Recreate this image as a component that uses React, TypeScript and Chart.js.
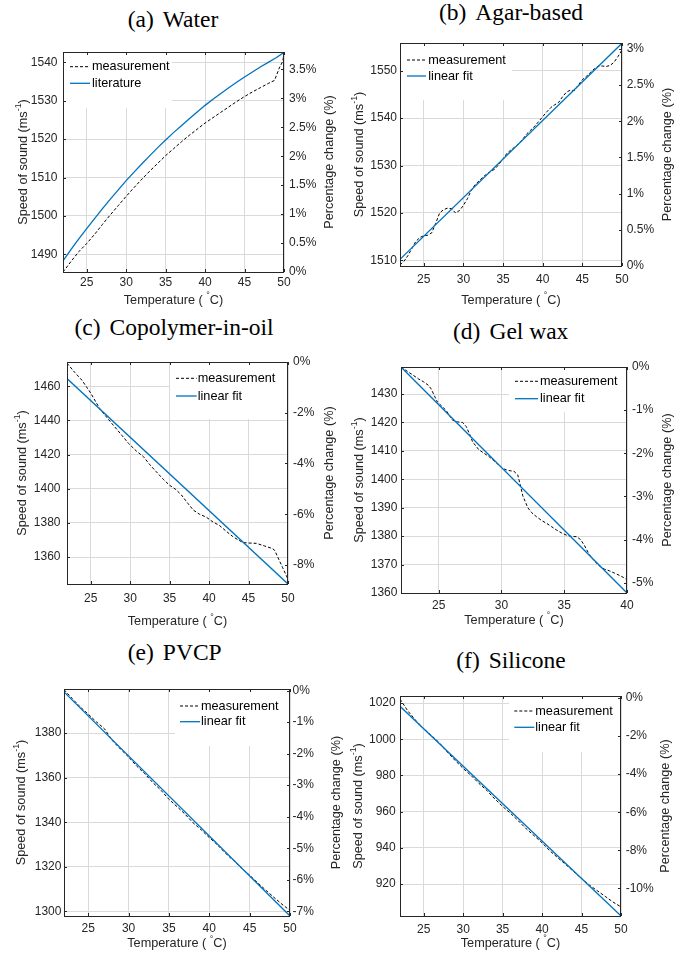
import React, { useEffect, useRef } from "react";
import { Chart, registerables } from "chart.js";

Chart.register(...registerables);

// ---------------- data ----------------
// (a) Water
const waterTemp = [22, 23, 24, 25, 26, 27, 28, 29, 30, 31, 32, 33, 34, 35, 36, 37, 38, 39, 40, 41, 42, 43, 44, 45, 46, 47, 48, 48.8, 49.4, 49.85, 50];
const waterMeasured = [1485.4, 1488.1, 1490.7, 1492.8, 1495.2, 1497.8, 1500.3, 1502.7, 1505.1, 1507.4, 1509.6, 1511.7, 1513.7, 1515.7, 1517.5, 1519.3, 1521.0, 1522.6, 1524.2, 1525.6, 1527.0, 1528.4, 1529.8, 1531.1, 1532.3, 1533.4, 1534.5, 1535.3, 1538.5, 1540.3, 1542.4];
const waterLitTemp = [22, 23, 24, 25, 26, 27, 28, 29, 30, 31, 32, 33, 34, 35, 36, 37, 38, 39, 40, 41, 42, 43, 44, 45, 46, 47, 48, 49, 50];
const waterLiterature = [1488.3, 1491.2, 1494.0, 1496.7, 1499.3, 1501.9, 1504.4, 1506.8, 1509.2, 1511.4, 1513.6, 1515.7, 1517.8, 1519.8, 1521.7, 1523.5, 1525.3, 1527.1, 1528.8, 1530.4, 1531.9, 1533.4, 1534.8, 1536.2, 1537.5, 1538.8, 1540.0, 1541.2, 1542.6];

// (b) Agar-based
const agarTemp = [22, 22.5, 23, 23.5, 24, 24.5, 25, 25.5, 26, 26.5, 27, 27.5, 28, 28.5, 29, 29.5, 30, 30.5, 31, 31.5, 32, 32.5, 33, 33.5, 34, 34.5, 35, 35.5, 36, 36.5, 37, 37.5, 38, 38.5, 39, 39.5, 40, 40.5, 41, 41.5, 42, 42.5, 43, 43.5, 44, 44.5, 45, 45.5, 46, 46.5, 47, 47.5, 48, 48.5, 49, 49.5, 50];
const agarMeasured = [1509.0, 1509.8, 1511.0, 1512.5, 1514.0, 1514.8, 1515.2, 1515.3, 1515.8, 1517.8, 1520.0, 1520.7, 1521.0, 1520.9, 1520.0, 1520.5, 1521.6, 1523.0, 1524.8, 1526.0, 1526.8, 1527.6, 1528.3, 1528.8, 1529.3, 1530.3, 1531.4, 1532.6, 1533.3, 1533.9, 1534.6, 1535.6, 1536.7, 1537.5, 1538.3, 1539.3, 1540.3, 1541.3, 1542.2, 1542.8, 1543.3, 1544.5, 1545.5, 1545.9, 1545.8, 1547.0, 1548.1, 1548.8, 1549.6, 1550.4, 1551.0, 1551.0, 1550.9, 1551.1, 1551.8, 1553.0, 1554.4];
const agarFitTemp = [22, 50];
const agarFit = [1510.2, 1555.8];

// (c) Copolymer-in-oil
const copoTemp = [22, 23, 23.9, 25, 26.2, 27, 27.9, 29, 29.8, 30.8, 31.7, 32.5, 33.3, 34.2, 35, 35.8, 36.5, 37.3, 38, 38.8, 39.6, 40.5, 41.3, 42.2, 43, 43.7, 44.3, 45, 46, 47, 48, 48.3, 48.7, 49.3, 50];
const copoMeasured = [1473.5, 1468.0, 1463.5, 1456.0, 1446.5, 1442.0, 1437.0, 1431.0, 1426.5, 1422.0, 1418.7, 1414.0, 1410.0, 1405.5, 1402.0, 1399.5, 1396.3, 1391.5, 1387.5, 1385.0, 1383.5, 1380.5, 1378.5, 1375.0, 1372.0, 1370.0, 1368.5, 1368.2, 1368.0, 1366.5, 1365.0, 1364.0, 1360.0, 1354.0, 1347.0];
const copoFitTemp = [22, 50];
const copoFit = [1464.5, 1344.2];

// (d) Gel wax
const gelTemp = [22, 22.5, 22.9, 23.4, 23.8, 24.2, 24.4, 24.7, 24.9, 25.3, 25.6, 25.9, 26.1, 26.5, 26.9, 27.2, 27.5, 27.7, 28.2, 28.6, 29, 29.4, 29.8, 30.1, 30.4, 30.7, 31, 31.3, 31.5, 31.7, 32.1, 32.4, 32.8, 33.2, 33.6, 34, 34.4, 34.8, 35.2, 35.6, 36, 36.3, 36.6, 37, 37.4, 37.8, 38.2, 38.6, 39, 39.4, 39.7, 40];
const gelMeasured = [1439.5, 1438.0, 1436.8, 1435.3, 1434.3, 1433.0, 1431.8, 1429.0, 1427.2, 1425.5, 1424.2, 1422.2, 1420.8, 1420.2, 1420.0, 1418.5, 1415.5, 1413.2, 1410.4, 1409.2, 1408.0, 1406.5, 1405.0, 1403.8, 1403.3, 1403.0, 1402.8, 1401.5, 1398.0, 1394.2, 1390.0, 1388.3, 1386.8, 1385.5, 1384.5, 1383.3, 1382.1, 1381.1, 1380.3, 1379.9, 1379.8, 1378.8, 1376.8, 1373.5, 1371.3, 1369.5, 1368.4, 1367.8, 1367.0, 1366.2, 1365.5, 1364.6];
const gelFitTemp = [22, 40];
const gelFit = [1439.5, 1360.0];

// (e) PVCP
const pvcpTemp = [22, 23, 24, 25, 26, 27, 28, 29, 30, 31, 32, 33, 34, 35, 36, 37, 38, 39, 40, 41, 42, 43, 44, 45, 46, 47, 48, 49, 50];
const pvcpMeasured = [1399.5, 1395.6, 1391.8, 1388.5, 1385.1, 1382.0, 1376.6, 1372.8, 1369.3, 1365.2, 1361.8, 1357.8, 1354.4, 1350.3, 1347.0, 1343.6, 1339.7, 1336.6, 1333.1, 1329.9, 1326.1, 1322.8, 1319.4, 1316.2, 1312.8, 1309.5, 1306.3, 1303.2, 1300.4];
const pvcpFitTemp = [22, 50];
const pvcpFit = [1398.5, 1297.9];

// (f) Silicone
const siliTemp = [22, 23, 24, 25, 26, 27, 28, 29, 30, 31, 32, 33, 34, 35, 36, 37, 38, 39, 40, 41, 42, 43, 44, 45, 46, 47, 48, 49, 50];
const siliMeasured = [1022.2, 1015.6, 1010.4, 1005.8, 1002.0, 998.0, 992.9, 988.2, 983.9, 980.0, 975.6, 971.7, 967.1, 962.9, 959.1, 954.9, 950.5, 946.7, 942.8, 938.3, 934.5, 930.8, 926.9, 923.1, 919.4, 916.3, 913.2, 910.0, 907.4];
const siliFitTemp = [22, 50];
const siliFit = [1018.2, 902.4];

// tick labels
const tempTicks50 = [25, 30, 35, 40, 45, 50];
const tempTicks40 = [25, 30, 35, 40];
const waterSpeedTicks = [1490, 1500, 1510, 1520, 1530, 1540];
const waterPctTicks = [0, 0.5, 1, 1.5, 2, 2.5, 3, 3.5];
const agarSpeedTicks = [1510, 1520, 1530, 1540, 1550];
const agarPctTicks = [0, 0.5, 1, 1.5, 2, 2.5, 3];
const copoSpeedTicks = [1360, 1380, 1400, 1420, 1440, 1460];
const copoPctTicks = [0, -2, -4, -6, -8];
const gelSpeedTicks = [1360, 1370, 1380, 1390, 1400, 1410, 1420, 1430];
const gelPctTicks = [0, -1, -2, -3, -4, -5];
const pvcpSpeedTicks = [1300, 1320, 1340, 1360, 1380];
const pvcpPctTicks = [0, -1, -2, -3, -4, -5, -6, -7];
const siliSpeedTicks = [920, 940, 960, 980, 1000, 1020];
const siliPctTicks = [0, -2, -4, -6, -8, -10];

// ---------------- styling / layout ----------------
const AX = "#262626";
const GRID = "#dadada";
const BLUE = "#0072BD";
const SANS = "'Liberation Sans', Arial, Helvetica, sans-serif";
const TICK_PX = 12;
const LABEL_PX = 12.7;

type Rect = { x: number; y: number; w: number; h: number };
type Plot = { l: number; t: number; r: number; b: number };
type Legend = { x: number; y: number; w: number; h: number; rows: number[]; s0: number; s1: number; tx: number };
type Panel = {
  tag: string; name: string; titleX: number; titleY: number;
  canvas: Rect; plot: Plot;
  xMin: number; xMax: number; xTicks: number[];
  yMin: number; yMax: number; yTicks: number[];
  pMin: number; pMax: number; pTicks: number[];
  measT: number[]; measV: number[]; refT: number[]; refV: number[]; refLabel: string;
  legend: Legend;
  xPad: number; lPad: number; rPad: number; lTitle: number; rTitle: number; bTitle: number;
};

const panels: Panel[] = [
  {
    tag: "(a)", name: "Water", titleX: 173, titleY: 20,
    canvas: { x: 0, y: 32, w: 346, h: 280 }, plot: { l: 63, t: 52, r: 284, b: 272 },
    xMin: 22, xMax: 50, xTicks: tempTicks50,
    yMin: 1485.4, yMax: 1542.7, yTicks: waterSpeedTicks,
    pMin: 0, pMax: 3.8, pTicks: waterPctTicks,
    measT: waterTemp, measV: waterMeasured, refT: waterLitTemp, refV: waterLiterature, refLabel: "literature",
    legend: { x: 63, y: 52, w: 109, h: 56, rows: [66.7, 83.3], s0: 70, s1: 90, tx: 92 },
    xPad: 3.6, lPad: 5.5, rPad: 5, lTitle: 40, rTitle: 45.5, bTitle: 28.5,
  },
  {
    tag: "(b)", name: "Agar-based", titleX: 511, titleY: 12.5,
    canvas: { x: 346, y: 26, w: 346, h: 290 }, plot: { l: 400, t: 43, r: 622, b: 266 },
    xMin: 22, xMax: 50, xTicks: tempTicks50,
    yMin: 1508.8, yMax: 1555.85, yTicks: agarSpeedTicks,
    pMin: 0, pMax: 3.08, pTicks: agarPctTicks,
    measT: agarTemp, measV: agarMeasured, refT: agarFitTemp, refV: agarFit, refLabel: "linear fit",
    legend: { x: 400, y: 43, w: 112, h: 57, rows: [60, 76], s0: 407, s1: 426, tx: 428.3 },
    xPad: 6.8, lPad: 3, rPad: 4.7, lTitle: 41, rTitle: 45.7, bTitle: 34,
  },
  {
    tag: "(c)", name: "Copolymer-in-oil", titleX: 174, titleY: 327.5,
    canvas: { x: 0, y: 342, w: 346, h: 290 }, plot: { l: 67, t: 362, r: 288, b: 584 },
    xMin: 22, xMax: 50, xTicks: tempTicks50,
    yMin: 1344.2, yMax: 1474.2, yTicks: copoSpeedTicks,
    pMin: -8.75, pMax: 0, pTicks: copoPctTicks,
    measT: copoTemp, measV: copoMeasured, refT: copoFitTemp, refV: copoFit, refLabel: "linear fit",
    legend: { x: 170, y: 362, w: 118, h: 57, rows: [378.3, 396], s0: 176, s1: 196.7, tx: 197.7 },
    xPad: 7.1, lPad: 6.5, rPad: 5, lTitle: 45, rTitle: 41.7, bTitle: 37.7,
  },
  {
    tag: "(d)", name: "Gel wax", titleX: 510.7, titleY: 332,
    canvas: { x: 346, y: 345, w: 346, h: 290 }, plot: { l: 401, t: 367, r: 627, b: 593 },
    xMin: 22, xMax: 40, xTicks: tempTicks40,
    yMin: 1360, yMax: 1439.5, yTicks: gelSpeedTicks,
    pMin: -5.24, pMax: 0, pTicks: gelPctTicks,
    measT: gelTemp, measV: gelMeasured, refT: gelFitTemp, refV: gelFit, refLabel: "linear fit",
    legend: { x: 509, y: 367, w: 118, h: 45, rows: [381.3, 398.7], s0: 515, s1: 538, tx: 540 },
    xPad: 5.1, lPad: 3.6, rPad: 5, lTitle: 42, rTitle: 40.7, bTitle: 27.3,
  },
  {
    tag: "(e)", name: "PVCP", titleX: 174.7, titleY: 653.3,
    canvas: { x: 0, y: 668, w: 346, h: 286 }, plot: { l: 64, t: 689, r: 290, b: 916 },
    xMin: 22, xMax: 50, xTicks: tempTicks50,
    yMin: 1297.9, yMax: 1399.8, yTicks: pvcpSpeedTicks,
    pMin: -7.15, pMax: 0.05, pTicks: pvcpPctTicks,
    measT: pvcpTemp, measV: pvcpMeasured, refT: pvcpFitTemp, refV: pvcpFit, refLabel: "linear fit",
    legend: { x: 175, y: 689, w: 115, h: 57, rows: [706, 721.7], s0: 180, s1: 200, tx: 201 },
    xPad: 5.4, lPad: 2.6, rPad: 2.5, lTitle: 42.6, rTitle: 46.7, bTitle: 27.6,
  },
  {
    tag: "(f)", name: "Silicone", titleX: 511, titleY: 661.3,
    canvas: { x: 346, y: 674, w: 346, h: 280 }, plot: { l: 400, t: 696, r: 621, b: 916 },
    xMin: 22, xMax: 50, xTicks: tempTicks50,
    yMin: 902.35, yMax: 1023.9, yTicks: siliSpeedTicks,
    pMin: -11.45, pMax: 0.1, pTicks: siliPctTicks,
    measT: siliTemp, measV: siliMeasured, refT: siliFitTemp, refV: siliFit, refLabel: "linear fit",
    legend: { x: 509, y: 696, w: 112, h: 56, rows: [711, 727.3], s0: 514.3, s1: 534.3, tx: 535.3 },
    xPad: 6.8, lPad: 4.3, rPad: 4.7, lTitle: 41.6, rTitle: 44.7, bTitle: 27.3,
  },
];

type Part = { t: string; sup?: boolean };

function drawRich(ctx: CanvasRenderingContext2D, parts: Part[], cx: number, cy: number) {
  const normal = `${LABEL_PX}px ${SANS}`;
  const small = `${LABEL_PX * 0.7}px ${SANS}`;
  let total = 0;
  const widths = parts.map((p) => {
    ctx.font = p.sup ? small : normal;
    const w = ctx.measureText(p.t).width;
    total += w;
    return w;
  });
  let x = cx - total / 2;
  ctx.textAlign = "left";
  ctx.textBaseline = "middle";
  ctx.fillStyle = AX;
  parts.forEach((p, i) => {
    ctx.font = p.sup ? small : normal;
    ctx.fillText(p.t, x, cy + (p.sup ? -4.5 : 0));
    x += widths[i];
  });
}

const decorPlugin = {
  id: "decor",
  afterDatasetsDraw(chart: any, _args: any, opts: any) {
    const ctx: CanvasRenderingContext2D = chart.ctx;
    const a = chart.chartArea;
    const p: Panel = opts.panel;
    const ox = p.canvas.x;
    const oy = p.canvas.y;
    ctx.save();

    // legend (opaque, no border)
    const lg = p.legend;
    ctx.fillStyle = "#ffffff";
    ctx.fillRect(lg.x - ox, lg.y - oy, lg.w, lg.h);
    const items = [
      { label: "measurement", color: "#000000", dash: [3, 2], width: 1 },
      { label: p.refLabel, color: BLUE, dash: [] as number[], width: 1.3 },
    ];
    items.forEach((it, i) => {
      const yy = lg.rows[i] - oy;
      ctx.beginPath();
      ctx.setLineDash(it.dash);
      ctx.strokeStyle = it.color;
      ctx.lineWidth = it.width;
      ctx.moveTo(lg.s0 - ox, yy);
      ctx.lineTo(lg.s1 - ox, yy);
      ctx.stroke();
      ctx.setLineDash([]);
      ctx.font = `${LABEL_PX}px ${SANS}`;
      ctx.fillStyle = "#000000";
      ctx.textAlign = "left";
      ctx.textBaseline = "middle";
      ctx.fillText(it.label, lg.tx - ox, yy);
    });

    // box
    ctx.strokeStyle = AX;
    ctx.lineWidth = 1;
    ctx.setLineDash([]);
    ctx.strokeRect(a.left + 0.5, a.top + 0.5, a.right - a.left - 1, a.bottom - a.top);

    // inward ticks
    const TL = 3;
    ctx.beginPath();
    const xs = chart.scales.x;
    xs.ticks.forEach((t: any) => {
      const px = Math.round(xs.getPixelForValue(t.value)) + 0.5;
      ctx.moveTo(px, a.bottom);
      ctx.lineTo(px, a.bottom - TL);
      ctx.moveTo(px, a.top);
      ctx.lineTo(px, a.top + TL);
    });
    const ys = chart.scales.y;
    ys.ticks.forEach((t: any) => {
      const py = Math.round(ys.getPixelForValue(t.value)) + 0.5;
      ctx.moveTo(a.left, py);
      ctx.lineTo(a.left + TL, py);
    });
    const ps = chart.scales.y2;
    ps.ticks.forEach((t: any) => {
      const py = Math.round(ps.getPixelForValue(t.value)) + 0.5;
      ctx.moveTo(a.right, py);
      ctx.lineTo(a.right - TL, py);
    });
    ctx.stroke();

    // axis titles
    const midY = (a.top + a.bottom) / 2;
    ctx.save();
    ctx.translate(a.left - p.lTitle, midY);
    ctx.rotate(-Math.PI / 2);
    drawRich(ctx, [{ t: "Speed of sound (ms" }, { t: "-1", sup: true }, { t: ")" }], 0, 0);
    ctx.restore();

    ctx.save();
    ctx.translate(a.right + p.rTitle, midY);
    ctx.rotate(-Math.PI / 2);
    drawRich(ctx, [{ t: "Percentage change (%)" }], 0, 0);
    ctx.restore();

    drawRich(
      ctx,
      [{ t: "Temperature ( " }, { t: "°", sup: true }, { t: "C)" }],
      (a.left + a.right) / 2,
      a.bottom + p.bTitle
    );

    ctx.restore();
  },
};

function pctLabel(v: number) {
  const r = Math.round(v * 10) / 10;
  return `${r === 0 ? 0 : r}%`;
}

function PanelChart({ p }: { p: Panel }) {
  const ref = useRef<HTMLCanvasElement | null>(null);
  useEffect(() => {
    if (!ref.current) return;
    const tickFont = { family: SANS, size: TICK_PX };
    const leftW = p.plot.l - p.canvas.x;
    const rightW = p.canvas.x + p.canvas.w - p.plot.r;
    const bottomH = p.canvas.y + p.canvas.h - p.plot.b;
    const topPad = p.plot.t - p.canvas.y;
    const chart = new Chart(ref.current, {
      type: "line",
      data: {
        datasets: [
          {
            label: p.refLabel,
            data: p.refT.map((t, i) => ({ x: t, y: p.refV[i] })),
            borderColor: BLUE,
            borderWidth: 1.3,
            pointRadius: 0,
            tension: 0,
            order: 0,
            yAxisID: "y",
          },
          {
            label: "measurement",
            data: p.measT.map((t, i) => ({ x: t, y: p.measV[i] })),
            borderColor: "#000000",
            borderWidth: 1,
            borderDash: [3, 2],
            pointRadius: 0,
            tension: 0,
            order: 1,
            yAxisID: "y",
          },
        ],
      },
      options: {
        animation: false,
        responsive: false,
        maintainAspectRatio: false,
        devicePixelRatio: 1,
        events: [],
        layout: { padding: { top: topPad, left: 0, right: 0, bottom: 0 } },
        plugins: {
          legend: { display: false },
          tooltip: { enabled: false },
          title: { display: false },
          decor: { panel: p },
        } as any,
        scales: {
          x: {
            type: "linear",
            position: "bottom",
            min: p.xMin,
            max: p.xMax,
            afterBuildTicks: (s: any) => {
              s.ticks = p.xTicks.map((v) => ({ value: v }));
            },
            afterFit: (s: any) => {
              s.height = bottomH;
            },
            grid: { color: GRID, lineWidth: 1, drawTicks: false },
            border: { display: false },
            ticks: {
              font: tickFont,
              color: AX,
              padding: p.xPad,
              autoSkip: false,
              maxRotation: 0,
              callback: (v: any) => String(v),
            },
          },
          y: {
            type: "linear",
            position: "left",
            min: p.yMin,
            max: p.yMax,
            afterBuildTicks: (s: any) => {
              s.ticks = p.yTicks.map((v) => ({ value: v }));
            },
            afterFit: (s: any) => {
              s.width = leftW;
            },
            grid: { color: GRID, lineWidth: 1, drawTicks: false },
            border: { display: false },
            ticks: {
              font: tickFont,
              color: AX,
              padding: p.lPad,
              autoSkip: false,
              callback: (v: any) => String(v),
            },
          },
          y2: {
            type: "linear",
            position: "right",
            min: p.pMin,
            max: p.pMax,
            afterBuildTicks: (s: any) => {
              s.ticks = p.pTicks.map((v) => ({ value: v }));
            },
            afterFit: (s: any) => {
              s.width = rightW;
            },
            grid: { display: false, drawTicks: false },
            border: { display: false },
            ticks: {
              font: tickFont,
              color: AX,
              padding: p.rPad,
              autoSkip: false,
              callback: (v: any) => pctLabel(Number(v)),
            },
          },
        },
      } as any,
      plugins: [decorPlugin as any],
    });
    return () => chart.destroy();
  }, [p]);

  return (
    <canvas
      ref={ref}
      width={p.canvas.w}
      height={p.canvas.h}
      style={{
        position: "absolute",
        left: p.canvas.x,
        top: p.canvas.y,
        width: p.canvas.w,
        height: p.canvas.h,
      }}
    />
  );
}

export default function App() {
  return (
    <div
      style={{
        position: "absolute",
        left: 0,
        top: 0,
        width: 692,
        height: 954,
        background: "#ffffff",
        overflow: "hidden",
      }}
    >
      {panels.map((p) => (
        <React.Fragment key={p.tag}>
          <div
            style={{
              position: "absolute",
              left: p.titleX,
              top: p.titleY,
              transform: "translate(-50%, -50%)",
              fontFamily: "'Liberation Serif', 'Times New Roman', serif",
              fontSize: 23.5,
              lineHeight: 1,
              whiteSpace: "nowrap",
              color: "#000",
            }}
          >
            <span>{p.tag}</span>
            <span style={{ marginLeft: 9 }}>{p.name}</span>
          </div>
          <PanelChart p={p} />
        </React.Fragment>
      ))}
    </div>
  );
}
